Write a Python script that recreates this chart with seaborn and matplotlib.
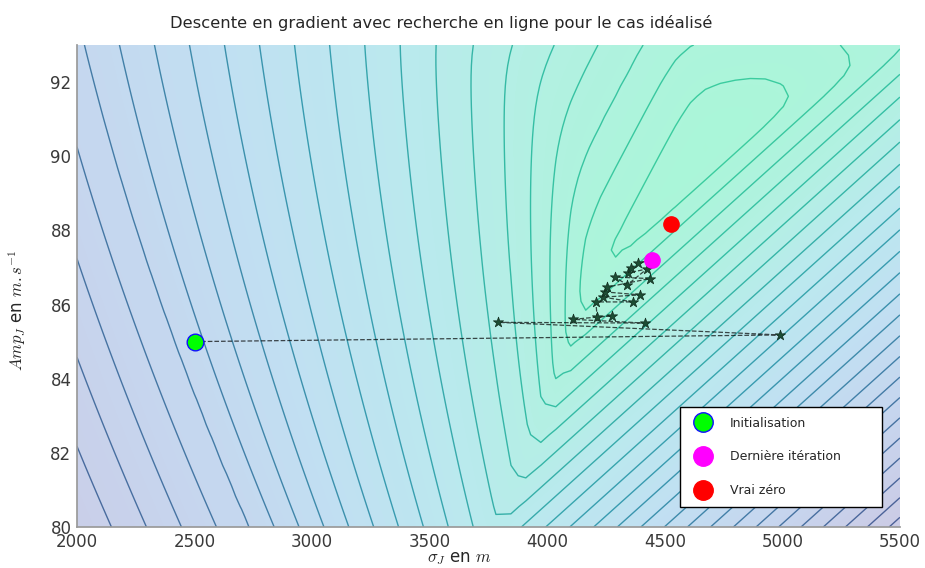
import matplotlib
matplotlib.use("Agg")
import matplotlib.pyplot as plt
from matplotlib.colors import LinearSegmentedColormap
from matplotlib.lines import Line2D
import numpy as np
import pandas as pd
import seaborn as sns

# iterations of the line-search gradient descent (sigma_J, Amp_J)
iter_sigma = [2500, 4990, 3790, 4415, 4110, 4275, 4212, 4207, 4365, 4237, 4395,
              4246, 4254, 4437, 4288, 4340, 4424, 4344, 4357, 4386, 4446]
iter_amp = [85.0, 85.18, 85.52, 85.50, 85.60, 85.70, 85.66, 86.07, 86.07, 86.20, 86.26,
            86.34, 86.47, 86.70, 86.74, 86.53, 86.96, 86.85, 86.98, 87.12, 87.20]
init_pt = (2500, 85.0)
last_pt = (4446, 87.2)
true_pt = (4527, 88.17)

x_ticks = [2000, 2500, 3000, 3500, 4000, 4500, 5000, 5500]
y_ticks = [80, 82, 84, 86, 88, 90, 92]

sns.set_theme(style="white")
plt.rcParams["mathtext.fontset"] = "cm"
plt.rcParams["font.family"] = ["DejaVu Sans"]

# --- cost surface: smooth max of a few families of level lines ---
sig = np.linspace(2000, 5500, 56)
amp = np.linspace(80, 93, 48)
S, A = np.meshgrid(sig, amp)
X = (S - 2000) * 0.2351            # roughly screen units
Y = (A - 80) * 37.08
Yt = 482 - Y

# far left: slanted, bent lines that straighten up towards the valley
base = X - 0.25 * Yt - 2e-4 * Yt ** 2
x_top = np.where(base < 0, base, base / (1 - 0.0006 * Yt))
F_left = (20.2 + (11 - x_top) / 35
          - 3.4e-4 * np.maximum(x_top - 400, 0) ** 2 * Yt / 482)
# left flank of the valley
v = -0.883 * X + 0.469 * Y + 277.2
F_flank = 5.2 + v / 40 + (1 / 33 - 1 / 40) * np.minimum(v, 0)
# right side: diagonal lines, tighter far from the valley
u = 0.669 * X - 0.743 * Y - 104
F_right = u / 18 + 1.5e-5 * u * np.abs(u)
# closing of the minimum at the top
F_cap1 = (-0.2 * X + 0.98 * Y - 303.2) / 45 + 3.2
F_cap2 = (0.77 * X + 0.64 * Y - 824.5) / 66 + 3.2

T = 0.25
stack = np.stack([F_left, F_flank, F_right, F_cap1, F_cap2]) / T
top = stack.max(axis=0)
f = T * (top + np.log(np.exp(stack - top).sum(axis=0)))

levels = np.arange(3.3, f.max(), 1.0)

fill_cmap = LinearSegmentedColormap.from_list(
    "fill", ["#a8f7d6", "#b0f2df", "#bae9ee", "#c1dff2", "#c6d5ee", "#cbcce6"])
line_cmap = LinearSegmentedColormap.from_list(
    "line", ["#3ed39c", "#35bea4", "#389cb0", "#447aa6", "#4d6198"])

fig = plt.figure(figsize=(9.25, 5.68), dpi=100)
ax = fig.add_axes([0.0832, 0.0722, 0.8897, 0.8486])

fmax = 27
ax.contourf(S, A, f, levels=80, cmap=fill_cmap, vmin=1, vmax=fmax)
ax.contour(S, A, f, levels=levels, cmap=line_cmap, linewidths=1.0,
           vmin=1, vmax=fmax)

path = pd.DataFrame({"sigma": iter_sigma, "amp": iter_amp})
sns.lineplot(data=path, x="sigma", y="amp", sort=False, estimator=None, ax=ax,
             color="black", linestyle="--", linewidth=0.9, alpha=0.7)
sns.scatterplot(data=path.iloc[1:-1], x="sigma", y="amp", ax=ax, marker="*",
                s=60, color="#1d4d34", edgecolor="#0f2a1c", linewidth=0.5, zorder=4)

ax.plot(*init_pt, "o", ms=12, mfc="#00ff00", mec="#1010ff", mew=1.0, zorder=5)
ax.plot(*last_pt, "o", ms=11, mfc="#ff00ff", mec="#ff00ff", zorder=5)
ax.plot(*true_pt, "o", ms=11, mfc="#ff0000", mec="#ff0000", zorder=5)

handles = [
    Line2D([], [], marker="o", ls="none", ms=14, mfc="#00ff00", mec="#1010ff"),
    Line2D([], [], marker="o", ls="none", ms=14, mfc="#ff00ff", mec="#ff00ff"),
    Line2D([], [], marker="o", ls="none", ms=14, mfc="#ff0000", mec="#ff0000"),
]
leg = ax.legend(handles, ["Initialisation", "Dernière itération", "Vrai zéro"],
                loc="lower left", bbox_to_anchor=(0.733, 0.0415, 0.245, 0.2158),
                mode="expand", fontsize=9, frameon=True, fancybox=False,
                framealpha=1, labelspacing=1.65, borderpad=0.8,
                handletextpad=1.2, borderaxespad=0)
leg.get_frame().set_edgecolor("black")
leg.get_frame().set_facecolor("white")
leg.get_frame().set_linewidth(1.0)

ax.set_xlim(2000, 5500)
ax.set_ylim(80, 93)
ax.set_xticks(x_ticks)
ax.set_yticks(y_ticks)
ax.tick_params(axis="both", labelsize=12, colors="#3a3a3a", length=4,
               direction="inout", width=0.6, pad=2)
for sp in ax.spines.values():
    sp.set_visible(False)
for side in ["left", "bottom"]:
    ax.spines[side].set_visible(True)
    ax.spines[side].set_color("#9a9a9a")

ax.set_xlabel(r"$\sigma_J$ en $m$", fontsize=12)
ax.set_ylabel(r"$Amp_J$ en $m.s^{-1}$", fontsize=12)
ax.xaxis.set_label_coords(0.465, -0.045)
ax.yaxis.set_label_coords(-0.06, 0.45)
ax.set_title("Descente en gradient avec recherche en ligne pour le cas idéalisé",
             fontsize=11.8, x=0.443, pad=12)

fig.savefig("out.png", dpi=100)
